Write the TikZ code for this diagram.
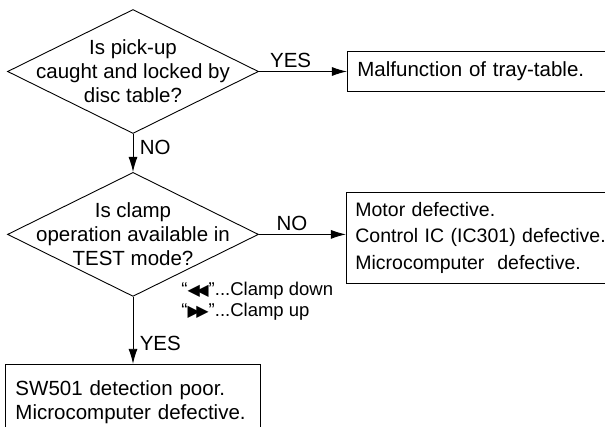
\documentclass[tikz,border=0pt]{standalone}
\usepackage{fontspec}
\setmainfont{Liberation Sans}
\newfontfamily\symfont{DejaVu Sans}
\usetikzlibrary{arrows.meta,positioning,shapes.geometric}

\begin{document}
\begin{tikzpicture}[
  x=1pt, y=-1pt,
  line width=0.9pt,
  font=\fontsize{20.5}{24}\selectfont,
  decision/.style={draw, diamond, minimum width=251pt, minimum height=124pt, inner sep=0pt},
  question/.style={align=center, inner sep=0pt},
  box/.style={draw, align=left, inner xsep=10pt},
  arrow/.style={-{Latex[length=15pt, width=9pt]}}
]
\useasboundingbox (0,0) rectangle (605,427);

% questions
\node[decision] (pickup) at (133,71.5) {};
\node[question] (pickuptxt) at (pickup) {Is pick-up\\caught and locked by\\disc table?};
\node[decision, below=38pt of pickup] (clamp) {};
\node[question] (clamptxt) at (clamp) {Is clamp\\operation available in\\TEST mode?};

% results
\node[box, right=88pt of pickup, text width=280pt, minimum height=40pt] (tray) {Malfunction of tray-table.};
\node[box, right=87pt of clamp, yshift=-3.5pt, text width=280pt, minimum height=91pt, inner xsep=9pt,
  font=\fontsize{19.5}{26.5}\selectfont] (motor)
  {Motor defective.\\Control IC (IC301) defective.\\Microcomputer\ \ defective.};
\node[box, below=67pt of clamp, text width=235pt, inner ysep=16pt,
  font=\fontsize{20.5}{24}\selectfont] (sw501)
  {SW501 detection poor.\\Microcomputer defective.};

\node[align=left, anchor=base west, inner sep=0pt, font=\fontsize{18.5}{21}\selectfont] (clampnote) at (181,317)
  {“{\symfont\fontsize{16}{12}\selectfont ◀\kern-3.5pt◀}”...Clamp down\\“{\symfont\fontsize{16}{12}\selectfont ▶\kern-3.5pt▶}”...Clamp up};

% connectors
\draw[arrow] (pickup.east) -- node[above, pos=0.36] {YES} (pickup.east -| tray.west);
\draw[arrow] (pickup) -- node[right, pos=0.35, xshift=3pt] {NO} (clamp);
\draw[arrow] (clamp.east) -- node[above, pos=0.38] {NO} (clamp.east -| motor.west);
\draw[arrow] (clamp) -- node[right, pos=0.69, xshift=3pt] {YES} (sw501);

\end{tikzpicture}
\end{document}
